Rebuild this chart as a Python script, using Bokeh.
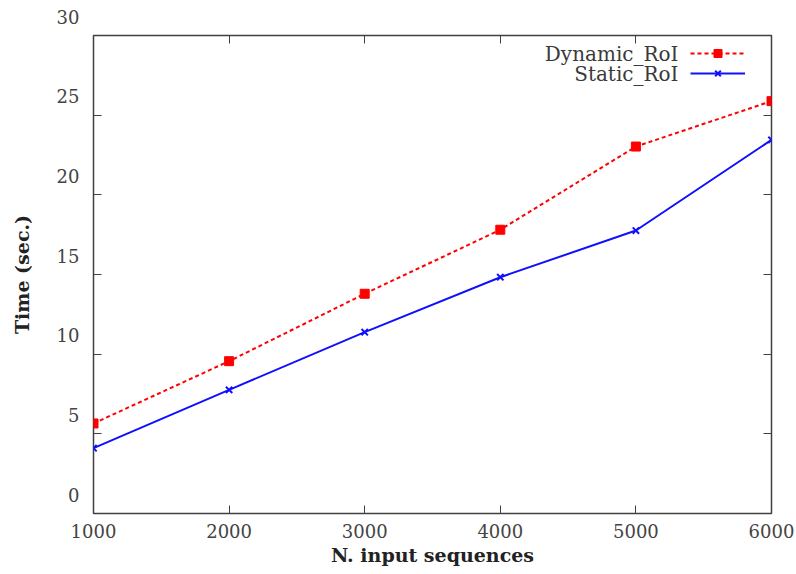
from bokeh.plotting import figure
from bokeh.models import (LinearAxis, FixedTicker, Legend, LegendItem, Range1d, Label,
                          CustomLabelingPolicy)
from bokeh.embed import file_html
from bokeh.resources import INLINE

# ---- data ----
n_seq = [1000, 2000, 3000, 4000, 5000, 6000]
dynamic_roi = [5.65, 9.56, 13.79, 17.81, 23.03, 25.88]
static_roi = [4.10, 7.76, 11.38, 14.83, 17.76, 23.45]
x_ticks = [1000, 2000, 3000, 4000, 5000, 6000]
y_ticks = [0, 5, 10, 15, 20, 25, 30]
y_tick_labels = ["0", "5", "10", "15", "20", "25", "30"]
series_names = ["Dynamic_RoI", "Static_RoI"]

FONT = "DejaVu Serif"
RED = "#ff0000"
BLUE = "#1010ff"
BORDER = "#404040"

p = figure(width=796, height=574,
           x_range=Range1d(1000, 6000), y_range=Range1d(0, 30),
           output_backend="svg", toolbar_location=None,
           min_border_left=93, min_border_right=25,
           min_border_top=35, min_border_bottom=61)
p.xgrid.visible = False
p.ygrid.visible = False
p.outline_line_color = BORDER
p.outline_line_width = 1.5
p.background_fill_color = "white"

# series
r_dyn_l = p.line(n_seq, dynamic_roi, line_color=RED, line_width=2, line_dash="4 3")
r_dyn_p = p.scatter(n_seq, dynamic_roi, marker="square", size=9,
                    fill_color=RED, line_color=RED)
r_sta_l = p.line(n_seq, static_roi, line_color=BLUE, line_width=2)
r_sta_p = p.scatter(n_seq, static_roi, marker="x", size=9,
                    line_color=BLUE, line_width=2)

# axes
for ax in [p.xaxis[0], p.yaxis[0]]:
    ax.axis_line_color = None
    ax.major_tick_in = 8
    ax.major_tick_out = 0
    ax.minor_tick_line_color = None
    ax.major_tick_line_color = BORDER
    ax.major_label_text_font = FONT
    ax.major_label_text_font_size = "18px"
    ax.major_label_text_color = "#444444"
    ax.axis_label_text_font = FONT
    ax.axis_label_text_font_style = "bold"
    ax.axis_label_text_font_size = "19px"
    ax.axis_label_text_color = "#222222"

p.xaxis.ticker = FixedTicker(ticks=x_ticks)
p.xaxis.major_label_standoff = 10
p.xaxis.axis_label = "N. input sequences"
p.xaxis.axis_label_standoff = 3

# y tick labels sit raised above their ticks in the reference: add an empty
# second line so the visible line moves up
p.yaxis.ticker = FixedTicker(ticks=y_ticks)
p.yaxis.major_label_overrides = {t: lbl + "\n" for t, lbl in zip(y_ticks, y_tick_labels)}
p.yaxis.major_label_text_baseline = "middle"
p.yaxis.major_label_text_line_height = 1.75
p.yaxis.major_label_standoff = 14
p.yaxis.axis_label = "Time (sec.)"
p.yaxis.axis_label_standoff = 21

# mirrored ticks top/right (no labels)
no_labels = "for (const i of indices) indices.unset(i)"
top_ax = LinearAxis(ticker=FixedTicker(ticks=x_ticks), axis_line_color=None,
                    major_tick_in=8, major_tick_out=0, minor_tick_line_color=None,
                    major_tick_line_color=BORDER, major_label_standoff=0,
                    major_label_policy=CustomLabelingPolicy(code=no_labels))
right_ax = LinearAxis(ticker=FixedTicker(ticks=y_ticks), axis_line_color=None,
                      major_tick_in=8, major_tick_out=0, minor_tick_line_color=None,
                      major_tick_line_color=BORDER, major_label_standoff=0,
                      major_label_policy=CustomLabelingPolicy(code=no_labels))
p.add_layout(top_ax, "above")
p.add_layout(right_ax, "right")

# legend: glyph samples via Legend, names as labels to their left
legend = Legend(items=[LegendItem(label=" ", renderers=[r_dyn_l, r_dyn_p]),
                       LegendItem(label=" ", renderers=[r_sta_l, r_sta_p])],
                location=(597, 430), glyph_width=55, glyph_height=20,
                label_width=0, label_standoff=0, padding=0, margin=0, spacing=0,
                label_text_font_size="1px", border_line_color=None,
                background_fill_alpha=0)
p.add_layout(legend)
for i, name in enumerate(series_names):
    p.add_layout(Label(x=6000, y=30, x_offset=-93, y_offset=-18 - 20 * i, text=name,
                       text_align="right", text_baseline="middle",
                       text_font=FONT, text_font_size="20px", text_color="#3a3a3a"))

open("out.html", "w").write(file_html(p, INLINE))
